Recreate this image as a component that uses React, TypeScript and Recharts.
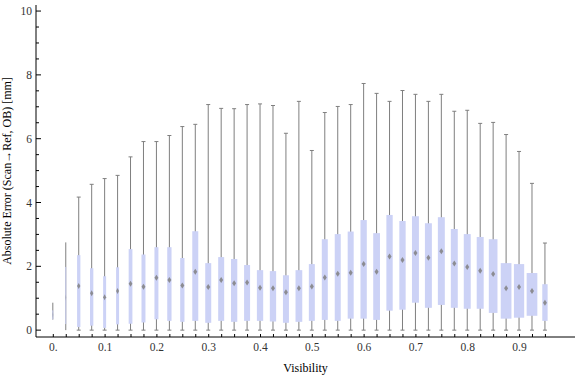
import React from "react";
import { ComposedChart, Bar, XAxis, YAxis, Label } from "recharts";

// Box-whisker summary per visibility bin (values in mm)
const visibility = [
  0, 0.025, 0.05, 0.075, 0.1, 0.125, 0.15, 0.175, 0.2, 0.225, 0.25, 0.275, 0.3,
  0.325, 0.35, 0.375, 0.4, 0.425, 0.45, 0.475, 0.5, 0.525, 0.55, 0.575, 0.6,
  0.625, 0.65, 0.675, 0.7, 0.725, 0.75, 0.775, 0.8, 0.825, 0.85, 0.875, 0.9,
  0.925, 0.95,
];
const whiskerLow = [
  0.33, 0, 0, 0, 0, 0, 0, 0, 0, 0, 0, 0, 0, 0, 0, 0, 0, 0, 0, 0, 0, 0, 0, 0, 0,
  0, 0, 0, 0, 0, 0, 0, 0, 0, 0, 0, 0, 0, 0,
];
const lowerQuartile = [
  0.34, 0.19, 0.1, 0.14, 0.07, 0.18, 0.2, 0.24, 0.34, 0.29, 0.26, 0.29, 0.23,
  0.29, 0.26, 0.29, 0.29, 0.27, 0.23, 0.26, 0.29, 0.32, 0.29, 0.36, 0.36, 0.32,
  0.61, 0.64, 0.86, 0.7, 0.79, 0.7, 0.67, 0.67, 0.54, 0.36, 0.39, 0.45, 0.29,
];
const medianError = [
  0.48, 1.02, 1.38, 1.16, 1.03, 1.23, 1.45, 1.36, 1.64, 1.57, 1.4, 1.83, 1.35,
  1.57, 1.47, 1.49, 1.33, 1.31, 1.19, 1.31, 1.37, 1.65, 1.77, 1.8, 2.07, 1.83,
  2.31, 2.2, 2.42, 2.27, 2.47, 2.09, 1.98, 1.86, 1.76, 1.31, 1.35, 1.23, 0.86,
];
const upperQuartile = [
  0.62, 1.98, 2.35, 1.94, 1.69, 1.97, 2.54, 2.37, 2.6, 2.6, 2.26, 3.1, 2.1,
  2.29, 2.23, 2.04, 1.88, 1.85, 1.72, 1.88, 2.07, 2.85, 3.01, 3.09, 3.45, 3.04,
  3.61, 3.42, 3.57, 3.35, 3.54, 3.17, 3.01, 2.92, 2.85, 2.1, 2.07, 1.79, 1.44,
];
const whiskerHigh = [
  0.86, 2.75, 4.17, 4.57, 4.75, 4.85, 5.43, 5.91, 5.91, 6.1, 6.38, 6.45, 7.07,
  6.95, 6.94, 7.07, 7.09, 7.04, 6.17, 7.17, 5.63, 6.82, 7.01, 7.07, 7.73, 7.42,
  7.17, 7.51, 7.39, 7.17, 7.39, 6.86, 6.89, 6.48, 6.51, 6.13, 5.6, 4.6, 2.73,
];
// relative box widths (bin weight), 1 = widest box
const binWeight = [
  0.09, 0.09, 0.31, 0.31, 0.28, 0.28, 0.35, 0.37, 0.37, 0.4, 0.4, 0.56, 0.56,
  0.56, 0.59, 0.56, 0.59, 0.59, 0.56, 0.63, 0.56, 0.56, 0.56, 0.56, 0.59, 0.63,
  0.59, 0.59, 0.65, 0.65, 0.65, 0.65, 0.65, 0.65, 0.81, 1, 0.96, 1, 0.5,
];

const xTicks = visibility;
const xLabelled = [0, 0.1, 0.2, 0.3, 0.4, 0.5, 0.6, 0.7, 0.8, 0.9];
const yTicks = [
  0, 0.5, 1, 1.5, 2, 2.5, 3, 3.5, 4, 4.5, 5, 5.5, 6, 6.5, 7, 7.5, 8, 8.5, 9,
  9.5, 10,
];
const yLabelled = [0, 2, 4, 6, 8, 10];

const data = visibility.map((v, i) => ({
  v,
  whisker: [whiskerLow[i], whiskerHigh[i]],
  box: [lowerQuartile[i], upperQuartile[i]],
  mid: [medianError[i], medianError[i]],
  weight: binWeight[i],
}));

const MAX_BOX = 10.7;
const BOX_FILL = "#ccd2f6";
const WHISKER = "#7f7f7f";
const FONT = "'Liberation Serif', 'Times New Roman', serif";
const X_DOMAIN: [number, number] = [-0.0334, 1.0071];
const Y_DOMAIN: [number, number] = [-0.215, 10.19];

const isLabelled = (list: number[], v: number) =>
  list.some((t) => Math.abs(t - v) < 1e-6);

function WhiskerShape(props: any) {
  const { x, y, width, height, payload } = props;
  const cx = x + width / 2;
  const w = payload.weight * MAX_BOX;
  const cap = w < 2 ? 0 : 2;
  return (
    <g stroke={WHISKER} strokeWidth={1}>
      <line x1={cx} x2={cx} y1={y} y2={y + height} />
      {cap > 0 && <line x1={cx - cap} x2={cx + cap} y1={y} y2={y} />}
      {cap > 0 && <line x1={cx - cap} x2={cx + cap} y1={y + height} y2={y + height} />}
    </g>
  );
}

function BoxShape(props: any) {
  const { x, y, width, height, payload } = props;
  const cx = x + width / 2;
  const w = payload.weight * MAX_BOX;
  return <rect x={cx - w / 2} y={y} width={w} height={Math.max(height, 0)} fill={BOX_FILL} />;
}

function MedianShape(props: any) {
  const { x, y, width, payload } = props;
  const cx = x + width / 2;
  const half = Math.min(2, (payload.weight * MAX_BOX) / 2);
  return (
    <polygon
      points={`${cx},${y - 3} ${cx + half},${y} ${cx},${y + 3} ${cx - half},${y}`}
      fill="#808080"
      fillOpacity={half < 1 ? 0.35 : 0.85}
    />
  );
}

function BottomTick(props: any) {
  const { x, y, payload } = props;
  const v = payload.value;
  const show = isLabelled(xLabelled, v);
  return (
    <g>
      <line x1={x} x2={x} y1={y} y2={y - 3} stroke="#000" />
      {show && (
        <text x={x} y={y + 14} textAnchor="middle" fontSize={11.5} fontFamily={FONT} fill="#333">
          {v === 0 ? "0." : String(Math.round(v * 10) / 10)}
        </text>
      )}
    </g>
  );
}

function TopTick(props: any) {
  const { x, y } = props;
  return <line x1={x} x2={x} y1={y} y2={y + 3} stroke="#000" />;
}

function LeftTick(props: any) {
  const { x, y, payload } = props;
  const v = payload.value;
  const major = isLabelled(yLabelled, v);
  return (
    <g>
      <line x1={x} x2={x + (major ? 5 : 3)} y1={y} y2={y} stroke="#000" />
      {major && (
        <text x={x - 4} y={y} dy="0.35em" textAnchor="end" fontSize={11.5} fontFamily={FONT} fill="#333">
          {v}
        </text>
      )}
    </g>
  );
}

function RightTick(props: any) {
  const { x, y, payload } = props;
  const major = isLabelled(yLabelled, payload.value);
  return <line x1={x} x2={x - (major ? 5 : 3)} y1={y} y2={y} stroke="#000" />;
}

export default function App() {
  return (
    <div style={{ position: "absolute", left: 0, top: 0, background: "#fff" }}>
      <ComposedChart
        width={576}
        height={377}
        data={data}
        margin={{ top: 5, right: 1, bottom: 0, left: 0 }}
        barGap={-2}
      >
        <XAxis
          dataKey="v"
          type="number"
          domain={X_DOMAIN}
          allowDataOverflow
          ticks={xTicks}
          interval={0}
          tickSize={0}
          tickMargin={0}
          tickLine={false}
          tick={BottomTick}
          axisLine={{ stroke: "#000" }}
          height={40}
        >
          <Label
            content={(p: any) => (
              <text
                x={p.viewBox.x + p.viewBox.width / 2}
                y={p.viewBox.y + 35}
                textAnchor="middle"
                fontSize={12}
                fontFamily={FONT}
                fill="#000"
              >
                Visibility
              </text>
            )}
          />
        </XAxis>
        <XAxis
          xAxisId="top"
          orientation="top"
          dataKey="v"
          type="number"
          domain={X_DOMAIN}
          allowDataOverflow
          ticks={xTicks}
          interval={0}
          tickSize={0}
          tickMargin={0}
          tickLine={false}
          tick={TopTick}
          axisLine={{ stroke: "#000" }}
          height={0}
        />
        <YAxis
          type="number"
          domain={Y_DOMAIN}
          allowDataOverflow
          ticks={yTicks}
          interval={0}
          tickSize={0}
          tickMargin={0}
          tickLine={false}
          tick={LeftTick}
          axisLine={{ stroke: "#000" }}
          width={36}
        >
          <Label
            content={(p: any) => {
              const lx = p.viewBox.x + 11;
              const ly = p.viewBox.y + p.viewBox.height / 2;
              return (
                <text
                  x={lx}
                  y={ly}
                  transform={`rotate(-90 ${lx} ${ly})`}
                  textAnchor="middle"
                  fontSize={12}
                  fontFamily={FONT}
                  fill="#000"
                >
                  Absolute Error (Scan→Ref, OB) [mm]
                </text>
              );
            }}
          />
        </YAxis>
        <YAxis
          yAxisId="right"
          orientation="right"
          type="number"
          domain={Y_DOMAIN}
          allowDataOverflow
          ticks={yTicks}
          interval={0}
          tickSize={0}
          tickMargin={0}
          tickLine={false}
          tick={RightTick}
          axisLine={{ stroke: "#000" }}
          width={0}
        />
        <Bar dataKey="whisker" barSize={2} shape={WhiskerShape} isAnimationActive={false} />
        <Bar dataKey="box" barSize={2} shape={BoxShape} isAnimationActive={false} />
        <Bar dataKey="mid" barSize={2} shape={MedianShape} isAnimationActive={false} />
      </ComposedChart>
    </div>
  );
}
